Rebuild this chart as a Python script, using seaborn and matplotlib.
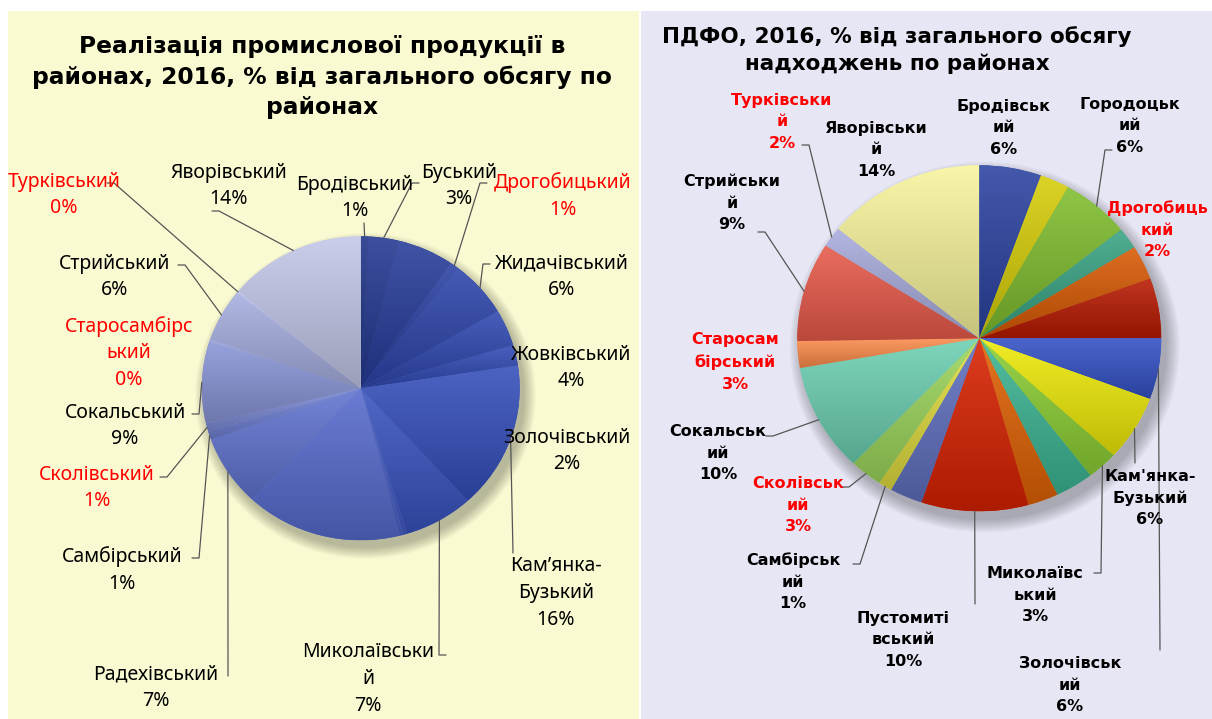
import numpy as np
import matplotlib
matplotlib.use('Agg')
import matplotlib.pyplot as plt
from matplotlib.patches import Rectangle, Ellipse
from matplotlib.colors import to_rgb
import seaborn as sns

sns.set_theme(style="white")
plt.rcParams['font.family'] = ['Noto Sans', 'DejaVu Sans']
plt.rcParams['text.color'] = 'black'

W, H = 1212, 719

# --- data: districts clockwise from 12 o'clock ---
districts = ["Бродівський", "Буський", "Городоцький", "Дрогобицький", "Жидачівський",
             "Жовківський", "Золочівський", "Кам'янка-Бузький", "Миколаївський", "Мостиський",
             "Перемишлянський", "Пустомитівський", "Радехівський", "Самбірський", "Сколівський",
             "Сокальський", "Старосамбірський", "Стрийський", "Турківський", "Яворівський"]

# share of industrial sales, %
sales_share = [0.8, 3.05, 5.8, 0.9, 6.1, 3.9, 2.2, 15.75, 7.1, 0.4,
               0.4, 16.0, 7.6, 0.9, 0.9, 8.7, 0.3, 5.6, 0.3, 14.0]

# share of personal income tax (ПДФО), %
pdfo_share = [5.5, 2.6, 6.1, 2.0, 3.2, 5.6, 5.7, 6.1, 2.75, 3.4,
              2.7, 9.5, 2.9, 1.2, 2.9, 10.1, 2.5, 9.25, 1.9, 14.1]

highlight = {"Турківський", "Дрогобицький", "Старосамбірський", "Сколівський"}

pdfo_colors = ["#2a42a0", "#d6cd08", "#7fbd2e", "#38a383", "#d85a04", "#b81a02", "#3350c4",
               "#eeea08", "#8ccf34", "#3cb593", "#e06204", "#d82200", "#6070c0", "#e0dc40",
               "#9cd65c", "#6cd0b2", "#fb8c4c", "#e85a4a", "#a8acdc", "#f8f49c"]
sales_colors = sns.blend_palette(["#1f3388", "#2c44aa", "#3550bd", "#5a6ed0", "#8b97d8", "#c3c7e8"], 20)

# label text, label centre (px), leader attach point (px) or None
sales_labels = {
    "Турківський": ("Турківський\n0%", (64, 195), (107, 183)),
    "Яворівський": ("Яворівський\n14%", (229, 186), (212, 211)),
    "Бродівський": ("Бродівський\n1%", (355, 198), (364, 223)),
    "Буський": ("Буський\n3%", (459, 186), (419, 183)),
    "Дрогобицький": ("Дрогобицький\n1%", (563, 196), (487, 183)),
    "Жидачівський": ("Жидачівський\n6%", (562, 277), (490, 264)),
    "Жовківський": ("Жовківський\n4%", (571, 368), None),
    "Золочівський": ("Золочівський\n2%", (567, 451), None),
    "Кам'янка-Бузький": ("Кам’янка-\nБузький\n16%", (556, 593), (513, 553)),
    "Миколаївський": ("Миколаївськи\nй\n7%", (368, 679), (446, 655)),
    "Радехівський": ("Радехівський\n7%", (156, 688), (228, 676)),
    "Самбірський": ("Самбірський\n1%", (122, 570), (192, 558)),
    "Сколівський": ("Сколівський\n1%", (97, 488), (160, 477)),
    "Сокальський": ("Сокальський\n9%", (125, 426), (192, 414)),
    "Старосамбірський": ("Старосамбірс\nький\n0%", (129, 353), None),
    "Стрийський": ("Стрийський\n6%", (115, 277), (178, 265)),
}
pdfo_labels = {
    "Турківський": ("Турківськи\nй\n2%", (782, 122), (802, 145)),
    "Яворівський": ("Яворівськи\nй\n14%", (876, 150), None),
    "Бродівський": ("Бродівськ\nий\n6%", (1004, 128), None),
    "Городоцький": ("Городоцьк\nий\n6%", (1130, 126), (1112, 150)),
    "Дрогобицький": ("Дрогобиць\nкий\n2%", (1157, 230), None),
    "Стрийський": ("Стрийськи\nй\n9%", (732, 203), (758, 232)),
    "Старосамбірський": ("Старосам\nбірський\n3%", (735, 362), None),
    "Сокальський": ("Сокальськ\nий\n10%", (718, 453), (766, 436)),
    "Сколівський": ("Сколівськ\nий\n3%", (798, 505), (842, 487)),
    "Самбірський": ("Самбірськ\nий\n1%", (793, 582), (853, 564)),
    "Пустомитівський": ("Пустомиті\nвський\n10%", (903, 640), (975, 604)),
    "Миколаївський": ("Миколаївс\nький\n3%", (1035, 595), (1094, 573)),
    "Кам'янка-Бузький": ("Кам'янка-\nБузький\n6%", (1150, 498), (1135, 463)),
    "Золочівський": ("Золочівськ\nий\n6%", (1070, 685), (1160, 650)),
}

fig = plt.figure(figsize=(W / 100, H / 100), dpi=100)
fig.patch.set_facecolor("white")
fig.patches.append(Rectangle((8 / W, 0), (639 - 8) / W, 1 - 11 / H, transform=fig.transFigure,
                             facecolor="#fafad2", edgecolor="none", zorder=-10))
fig.patches.append(Rectangle((641 / W, 0), (W - 641) / W, 1 - 11 / H, transform=fig.transFigure,
                             facecolor="#e6e6f5", edgecolor="none", zorder=-10))

# overlay axes in pixel coordinates for labels and leader lines
over = fig.add_axes([0, 0, 1, 1], zorder=5)
over.set_xlim(0, W)
over.set_ylim(H, 0)
over.axis("off")
over.patch.set_alpha(0)


def shade(c, f):
    c = np.array(to_rgb(c))
    return np.clip(c + (1 - c) * f, 0, 1) if f > 0 else np.clip(c * (1 + f), 0, 1)


def draw_pie(cx, cy, rx, ry, values, colors):
    ax = fig.add_axes([(cx - rx) / W, 1 - (cy + ry) / H, 2 * rx / W, 2 * ry / H], zorder=2)
    for k in range(8):
        ax.add_patch(Ellipse((0.03, -0.05), 2 + 0.02 * k, 2 + 0.02 * k, facecolor="black",
                             alpha=0.035, edgecolor="none", clip_on=False, zorder=0))
    wedges, _ = ax.pie(values, colors=colors, startangle=90, counterclock=False,
                       wedgeprops=dict(linewidth=0))
    for w, c in zip(wedges, colors):
        v = w.get_path().vertices
        grad = np.linspace(0, 1, 64)[:, None]
        top, bot = shade(c, 0.12), shade(c, -0.2)
        img = (1 - grad)[..., None] * top + grad[..., None] * bot
        im = ax.imshow(img, extent=[v[:, 0].min(), v[:, 0].max(), v[:, 1].min(), v[:, 1].max()],
                       aspect="auto", origin="upper", zorder=2)
        im.set_clip_path(w)
    ax.set_aspect("auto")
    ax.set_xlim(-1, 1)
    ax.set_ylim(-1, 1)
    ax.axis("off")
    return ax, wedges


def edge_point(ax, w):
    th = np.deg2rad((w.theta1 + w.theta2) / 2)
    p = ax.transData.transform((np.cos(th), np.sin(th)))
    return over.transData.inverted().transform(p)


def put_labels(ax, wedges, labels, weight, size, spacing, fam):
    for name, w in zip(districts, wedges):
        if name not in labels:
            continue
        text, (tx, ty), attach = labels[name]
        col = "red" if name in highlight else "black"
        over.text(tx, ty, text, ha="center", va="center", color=col, fontsize=size,
                  fontweight=weight, linespacing=spacing, family=fam)
        if attach is None:
            continue
        ex, ey = edge_point(ax, w)
        ax_, ay_ = attach
        if abs(ex - ax_) < 4:
            xs, ys = [ax_, ex], [ay_, ey]
        else:
            step = 7 if ex > ax_ else -7
            xs, ys = [ax_, ax_ + step, ex], [ay_, ay_, ey]
        over.plot(xs, ys, color="#555555", lw=0.9)


ax_l, w_l = draw_pie(360.7, 388.3, 159, 152, sales_share, sales_colors)
put_labels(ax_l, w_l, sales_labels, "normal", 14, 1.45, ["Noto Sans", "DejaVu Sans"])

ax_r, w_r = draw_pie(979.3, 338.3, 182, 173, pdfo_share, pdfo_colors)
put_labels(ax_r, w_r, pdfo_labels, "bold", 11.5, 1.55, ["DejaVu Sans"])

over.text(322, 77, "Реалізація промислової продукції в\nрайонах, 2016, % від загального обсягу по\nрайонах",
          ha="center", va="center", fontsize=16.8, fontweight="bold", linespacing=1.4,
          color="black", family=["DejaVu Sans"])
over.text(897, 50, "ПДФО, 2016, % від загального обсягу\nнадходжень по районах",
          ha="center", va="center", fontsize=15.5, fontweight="bold", linespacing=1.45,
          color="black", family=["DejaVu Sans"])

fig.savefig("out.png", dpi=100)
